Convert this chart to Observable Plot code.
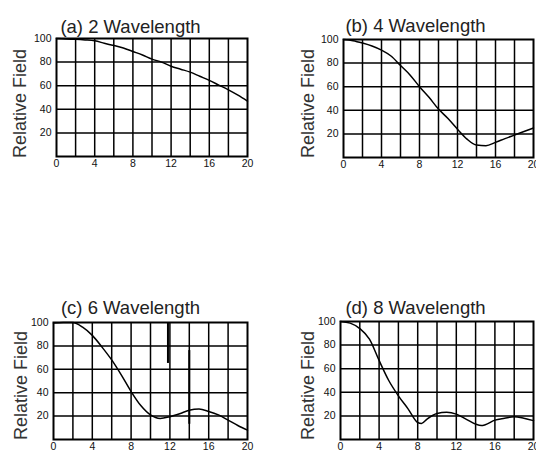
<!DOCTYPE html>
<html>
<head>
<meta charset="utf-8">
<script src="https://cdn.jsdelivr.net/npm/d3@7"></script>
<script src="https://cdn.jsdelivr.net/npm/@observablehq/plot@0.6"></script>
<style>
  html, body { margin: 0; padding: 0; background: #fff; }
  #wrap { position: relative; width: 536px; height: 455px; overflow: hidden; background: #fff; }
  #wrap svg { position: absolute; overflow: visible; }
</style>
</head>
<body>
<div id="wrap"></div>
<script>
// ---- data ----
const titles = ["(a) 2 Wavelength", "(b) 4 Wavelength", "(c) 6 Wavelength", "(d) 8 Wavelength"];
const yLabel = "Relative Field";
const xTicks = [0, 4, 8, 12, 16, 20];
const yTicks = [20, 40, 60, 80, 100];
const xGrid = [2, 4, 6, 8, 10, 12, 14, 16, 18];
const yGrid = [20, 40, 60, 80];

const xA = [0,1,2,3,4,5,6,7,8,9,10,11,12,13,14,15,16,17,18,19,20];
const yA = [100,99.5,99.3,98.8,98,96,94,92,89,86,82.5,80,76.5,74,71.5,68,64.5,60.5,56.5,52,47];

const xB = [0,1,2,3,4,5,6,7,8,9,10,11,12,13,14,15,16,17,18,19,20];
const yB = [100,99,97,94.5,91,86,78,70,60,51,41,33,24,15.6,10.5,10,12.8,16,19,22,25];

const xC = [0,1,2,3,4,5,6,7,8,9,10,11,12,13,14,15,16,17,18,19,20];
const yC = [99.5,100,100,96,89,79,68,55,41,29,21,18,19.5,22,25,26,24,21,16.5,12,8];

const xD = [0,1,2,3,4,5,6,7,8,8.4,9,10,11,12,13,14,14.6,15,16,17,18,19,20];
const yD = [100,98.6,94,85,67,50,37,26,14.4,13.6,17.5,22,23,21.5,17.3,13,11.8,12.5,16.4,18,19.3,18,16];

// scan streaks visible in panel (c)
const streakX = [11.8, 14];
const streakTop = [100, 76];
const streakBottom = [65, 13];

// ---- layout (per panel) ----
const panels = [
  {xs: xA, ys: yA, left: 0,   top: 0,   fl: 56, fr: 247, ft: 38,  fb: 156, tx: 130, ty: 19,  lx: 13,  ly: 103},
  {xs: xB, ys: yB, left: 268, top: 0,   fl: 343, fr: 533, ft: 39, fb: 157, tx: 415, ty: 18,  lx: 301, ly: 103},
  {xs: xC, ys: yC, left: 0,   top: 280, fl: 53, fr: 247, ft: 322, fb: 439, tx: 130, ty: 300, lx: 14,  ly: 385},
  {xs: xD, ys: yD, left: 268, top: 280, fl: 340, fr: 533, ft: 321, fb: 439, tx: 415, ty: 300, lx: 301, ly: 385}
];

const wrap = document.getElementById("wrap");
const font = "Liberation Sans, Arial, sans-serif";

panels.forEach((p, i) => {
  const W = 268, H = 175;
  const mL = p.fl - p.left, mR = (p.left + W) - p.fr;
  const mT = p.ft - p.top, mB = (p.top + H) - p.fb;
  const pts = p.xs.map((x, k) => ({x, y: p.ys[k]}));
  const marks = [
    Plot.gridX(xGrid, {stroke: "#000", strokeOpacity: 1, strokeWidth: 1.5}),
    Plot.gridY(yGrid, {stroke: "#000", strokeOpacity: 1, strokeWidth: 1.5}),
    Plot.frame({stroke: "#000", strokeWidth: 2}),
    Plot.axisX(xTicks, {tickSize: 0, tickPadding: 3, fontSize: 10.5, label: null, fill: "#111"}),
    Plot.axisY(yTicks, {tickSize: 0, tickPadding: 5, fontSize: 10.5, label: null, fill: "#111"}),
    Plot.line(pts, {x: "x", y: "y", stroke: "#000", strokeWidth: 1.5, curve: "monotone-x"}),
    Plot.text([titles[i]], {frameAnchor: "top-left", text: d => d, dx: p.tx - p.fl, dy: p.ty - p.ft,
      fontSize: 18.5, textAnchor: "middle", fill: "#222"}),
    Plot.text([yLabel], {frameAnchor: "top-left", text: d => d, dx: p.lx - p.fl, dy: p.ly - p.ft,
      rotate: -90, fontSize: 18, textAnchor: "middle", fill: "#333"})
  ];
  if (i === 2) {
    const streaks = streakX.map((x, k) => ({x, y1: streakTop[k], y2: streakBottom[k]}));
    marks.push(Plot.ruleX(streaks, {x: "x", y1: "y1", y2: "y2", stroke: "#000", strokeWidth: 2}));
  }
  const svg = Plot.plot({
    width: W, height: H,
    marginLeft: mL, marginRight: mR, marginTop: mT, marginBottom: mB,
    style: {fontFamily: font, background: "transparent", overflow: "visible"},
    x: {domain: [0, 20]},
    y: {domain: [0, 100]},
    marks
  });
  svg.style.left = p.left + "px";
  svg.style.top = p.top + "px";
  wrap.appendChild(svg);
});
</script>
</body>
</html>
